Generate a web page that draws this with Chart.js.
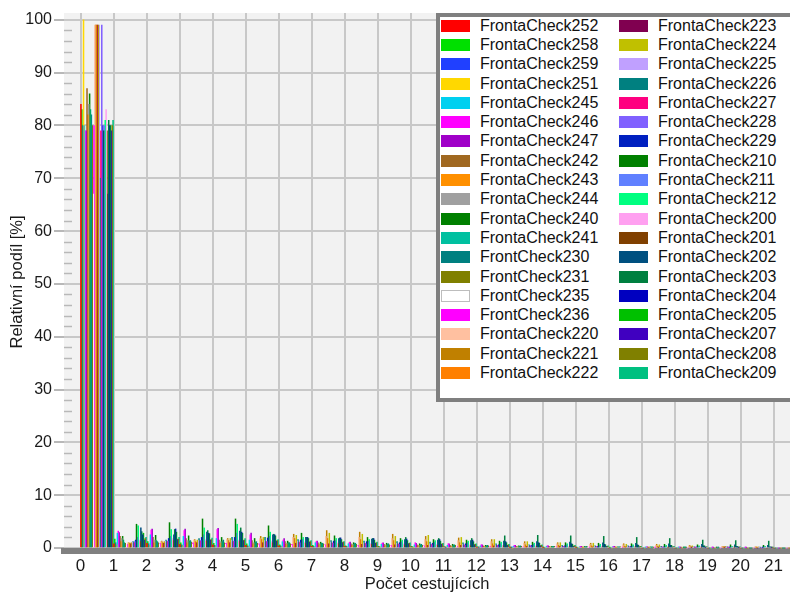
<!DOCTYPE html>
<html>
<head>
<meta charset="utf-8">
<script src="https://cdn.jsdelivr.net/npm/chart.js@4.4.0/dist/chart.umd.min.js"></script>
<style>
  html, body { margin: 0; padding: 0; background: #fff; overflow: hidden; }
  #wrap { position: relative; width: 790px; height: 594px; }
  #legend {
    position: absolute; left: 436px; top: 13px; width: 360px; height: 381px;
    background: #fff; border: 4px solid #7f7f7f;
    font-family: "Liberation Sans", Arial, sans-serif; font-size: 16px; color: #111;
  }
  .col { position: absolute; top: -1px; }
  .item { height: 19.3px; display: flex; align-items: center; white-space: nowrap; }
  .sw { width: 29px; height: 12px; margin-right: 10px; box-sizing: border-box; }
</style>
</head>
<body>
<div id="wrap">
  <canvas id="chart" width="790" height="594"></canvas>
  <div id="legend"></div>
</div>
<script>
// x categories: number of passengers (each bin spans [k, k+1])
const passengerCounts = [0, 1, 2, 3, 4, 5, 6, 7, 8, 9, 10, 11, 12, 13, 14, 15, 16, 17, 18, 19, 20, 21];
const shareTicks = [0, 10, 20, 30, 40, 50, 60, 70, 80, 90, 100];

const seriesNames = [
  "FrontaCheck252", "FrontaCheck258", "FrontaCheck259", "FrontaCheck251", "FrontaCheck245",
  "FrontaCheck246", "FrontaCheck247", "FrontaCheck242", "FrontaCheck243", "FrontaCheck244",
  "FrontaCheck240", "FrontaCheck241", "FrontCheck230", "FrontCheck231", "FrontCheck235",
  "FrontCheck236", "FrontaCheck220", "FrontaCheck221", "FrontaCheck222",
  "FrontaCheck223", "FrontaCheck224", "FrontaCheck225", "FrontaCheck226", "FrontaCheck227",
  "FrontaCheck228", "FrontaCheck229", "FrontaCheck210", "FrontaCheck211", "FrontaCheck212",
  "FrontaCheck200", "FrontaCheck201", "FrontaCheck202", "FrontaCheck203", "FrontaCheck204",
  "FrontaCheck205", "FrontaCheck207", "FrontaCheck208", "FrontaCheck209"
];

const seriesColors = [
  "#ff0000", "#00e000", "#2040ff", "#ffd800", "#00d0f0",
  "#ff00ff", "#a000c8", "#a06820", "#ff9000", "#a0a0a0",
  "#008000", "#00c0a0", "#008080", "#808000", "#ffffff",
  "#ff00ff", "#ffc0a0", "#c08000", "#ff8000",
  "#800050", "#c0c000", "#c0a0ff", "#008080", "#ff0080",
  "#8060ff", "#0020c0", "#008000", "#6080ff", "#00ff80",
  "#ffa0f0", "#804000", "#005080", "#008040", "#0000c0",
  "#00c000", "#4000c0", "#808000", "#00c080"
];

// relative share [%] per passenger count
const fc252 = [84, 0.8, 0.9, 0.7, 0.6, 0.5, 0.4, 0.3, 0.3, 0.2, 0.2, 0.2, 0.1, 0.1, 0.1, 0.1, 0, 0, 0, 0, 0, 0];
const fc258 = [83, 1.7, 1.2, 1.0, 0.9, 0.8, 0.6, 0.5, 0.4, 0.3, 0.3, 0.2, 0.2, 0.1, 0.1, 0.1, 0.1, 0, 0, 0, 0, 0];
const fc259 = [80, 1.0, 0.8, 0.6, 0.5, 0.4, 0.4, 0.3, 0.3, 0.2, 0.2, 0.1, 0.1, 0.1, 0, 0, 0, 0, 0, 0, 0, 0];
const fc251 = [100, 0.6, 0.5, 0.5, 0.4, 0.3, 0.3, 0.2, 0.2, 0.2, 0.1, 0.1, 0.1, 0, 0, 0, 0, 0, 0, 0, 0, 0];
const fc245 = [80, 2.8, 2.5, 2.2, 1.8, 1.5, 1.2, 1.0, 0.8, 0.7, 0.6, 0.5, 0.4, 0.3, 0.3, 0.2, 0.2, 0.1, 0.1, 0, 0, 0];
const fc246 = [79, 3.2, 3.4, 3.3, 3.5, 2.5, 1.5, 1.2, 1.0, 0.9, 1.0, 0.8, 0.6, 0.5, 0.4, 0.3, 0.3, 0.2, 0.2, 0.1, 0.1, 0];
const fc247 = [79, 2.9, 3.6, 3.6, 3.7, 2.8, 1.8, 1.3, 1.1, 1.0, 0.9, 0.8, 0.6, 0.5, 0.4, 0.3, 0.3, 0.2, 0.1, 0.1, 0.1, 0];
const fc242 = [87, 2.2, 2.0, 1.8, 1.5, 1.4, 1.2, 1.0, 0.8, 0.7, 0.6, 0.5, 0.4, 0.3, 0.3, 0.2, 0.2, 0.1, 0.1, 0, 0, 0];
const fc243 = [82, 1.2, 1.0, 1.0, 0.9, 0.8, 0.7, 0.6, 0.5, 0.4, 0.4, 0.3, 0.3, 0.2, 0.2, 0.1, 0.1, 0.1, 0, 0, 0, 0];
const fc244 = [84, 1.8, 1.5, 1.4, 1.2, 1.0, 0.9, 0.8, 0.7, 0.6, 0.5, 0.4, 0.3, 0.3, 0.2, 0.2, 0.1, 0.1, 0, 0, 0, 0];
const fc240 = [86, 2.2, 2.4, 2.3, 2.0, 1.8, 1.3, 1.1, 1.0, 0.9, 0.8, 0.7, 0.5, 0.4, 0.3, 0.3, 0.2, 0.2, 0.1, 0.1, 0, 0];
const fc241 = [83, 1.5, 1.4, 1.3, 1.2, 1.1, 1.0, 0.9, 0.8, 0.7, 0.6, 0.5, 0.4, 0.3, 0.3, 0.2, 0.2, 0.1, 0.1, 0, 0, 0];
const fc230 = [82, 1.0, 1.2, 1.4, 1.5, 1.2, 1.0, 0.9, 0.9, 0.8, 0.7, 0.6, 0.5, 0.4, 0.3, 0.3, 0.2, 0.2, 0.1, 0.1, 0, 0];
const fc231 = [80, 0.9, 1.0, 1.1, 1.0, 0.9, 0.8, 0.8, 0.7, 0.6, 0.5, 0.5, 0.4, 0.3, 0.3, 0.2, 0.2, 0.1, 0.1, 0, 0, 0];
const fc235 = [67, 0.8, 0.8, 0.7, 0.7, 0.6, 0.5, 0.5, 0.4, 0.4, 0.3, 0.3, 0.2, 0.2, 0.1, 0.1, 0.1, 0, 0, 0, 0, 0];
const fc236 = [80, 0.7, 0.9, 1.0, 0.9, 0.8, 0.7, 0.6, 0.5, 0.5, 0.4, 0.3, 0.3, 0.2, 0.2, 0.1, 0.1, 0.1, 0, 0, 0, 0];
const fc220 = [99, 1.0, 1.2, 1.5, 1.6, 1.8, 2.0, 2.2, 2.0, 1.8, 1.6, 1.4, 1.2, 0.9, 0.8, 0.7, 0.6, 0.5, 0.4, 0.3, 0.2, 0];
const fc221 = [99, 1.0, 1.3, 1.6, 1.8, 2.2, 2.6, 3.3, 3.0, 2.6, 2.2, 1.9, 1.6, 1.2, 1.0, 0.9, 0.8, 0.7, 0.5, 0.3, 0.2, 0];
const fc222 = [99, 0.9, 1.0, 1.2, 1.4, 1.6, 1.8, 1.8, 1.6, 1.4, 1.2, 1.0, 0.8, 0.6, 0.5, 0.4, 0.3, 0.3, 0.2, 0.1, 0.1, 0];
const fc223 = [99, 0.8, 0.9, 1.0, 1.0, 1.0, 0.9, 0.8, 0.7, 0.6, 0.5, 0.5, 0.4, 0.3, 0.3, 0.2, 0.2, 0.1, 0.1, 0.1, 0, 0];
const fc224 = [99, 1.0, 1.2, 1.5, 1.8, 2.0, 2.4, 2.8, 2.6, 2.2, 2.4, 2.0, 1.6, 1.2, 1.0, 0.9, 0.7, 0.6, 0.4, 0.3, 0.2, 0];
const fc225 = [99, 1.1, 1.3, 1.4, 1.5, 1.4, 1.3, 1.1, 1.0, 0.9, 0.8, 0.7, 0.6, 0.5, 0.4, 0.3, 0.3, 0.2, 0.1, 0.1, 0.1, 0];
const fc226 = [70, 1.2, 1.5, 1.8, 2.0, 2.0, 1.6, 1.4, 1.3, 1.2, 1.1, 1.0, 0.8, 0.6, 0.5, 0.4, 0.4, 0.3, 0.2, 0.2, 0.1, 0];
const fc227 = [79, 1.0, 1.2, 1.3, 1.2, 1.2, 1.1, 1.0, 0.9, 0.8, 0.7, 0.6, 0.5, 0.4, 0.3, 0.3, 0.2, 0.2, 0.1, 0.1, 0, 0];
const fc228 = [99, 1.2, 1.3, 1.4, 1.3, 1.2, 1.0, 0.9, 0.8, 0.7, 0.6, 0.5, 0.4, 0.4, 0.3, 0.2, 0.2, 0.1, 0.1, 0.1, 0, 0];
const fc229 = [80, 1.5, 1.8, 2.0, 2.0, 1.9, 1.5, 1.3, 1.2, 1.0, 0.9, 0.8, 0.6, 0.5, 0.4, 0.3, 0.3, 0.2, 0.2, 0.1, 0.1, 0];
const fc210 = [79, 4.5, 4.8, 5.5, 5.5, 4.2, 2.8, 2.3, 2.0, 1.8, 1.6, 1.5, 1.3, 1.1, 1.0, 0.9, 0.8, 0.7, 0.6, 0.6, 0.5, 0];
const fc211 = [80, 2.0, 2.2, 2.5, 2.8, 2.2, 1.6, 1.4, 1.3, 1.2, 1.1, 1.0, 0.8, 0.7, 0.6, 0.5, 0.4, 0.3, 0.3, 0.2, 0.2, 0];
const fc212 = [81, 4.2, 3.5, 3.8, 4.5, 3.0, 2.0, 1.8, 1.6, 1.5, 1.4, 1.3, 1.1, 0.9, 0.8, 0.7, 0.6, 0.5, 0.4, 0.3, 0.3, 0];
const fc200 = [83, 1.5, 1.8, 1.6, 1.5, 1.3, 1.1, 1.0, 0.9, 0.8, 0.7, 0.6, 0.5, 0.4, 0.3, 0.3, 0.2, 0.2, 0.1, 0.1, 0.1, 0];
const fc201 = [79, 1.2, 1.4, 1.3, 1.2, 1.0, 0.9, 0.8, 0.7, 0.6, 0.5, 0.4, 0.4, 0.3, 0.2, 0.2, 0.2, 0.1, 0.1, 0.1, 0, 0];
const fc202 = [67, 3.8, 2.5, 3.0, 3.2, 2.5, 2.0, 1.8, 1.7, 1.6, 1.5, 1.4, 1.3, 1.2, 1.1, 1.0, 0.9, 0.8, 0.7, 0.6, 0.5, 0];
const fc203 = [81, 3.1, 3.5, 3.3, 3.8, 2.6, 2.0, 1.9, 1.8, 2.0, 1.8, 1.8, 2.3, 2.4, 2.3, 2.2, 2.0, 1.8, 1.5, 1.4, 1.3, 0];
const fc204 = [80, 2.5, 3.6, 2.8, 3.0, 2.5, 2.0, 1.9, 1.8, 1.7, 1.6, 1.5, 1.2, 1.0, 0.8, 0.7, 0.6, 0.5, 0.4, 0.3, 0.2, 0];
const fc205 = [80, 2.8, 3.0, 2.7, 2.8, 2.3, 1.8, 1.6, 1.5, 1.4, 1.3, 1.2, 1.0, 0.9, 0.7, 0.6, 0.5, 0.5, 0.4, 0.3, 0.2, 0];
const fc207 = [79, 1.5, 1.6, 1.5, 1.4, 1.3, 1.1, 1.0, 0.9, 0.8, 0.7, 0.6, 0.5, 0.4, 0.3, 0.3, 0.2, 0.2, 0.1, 0.1, 0.1, 0];
const fc208 = [80, 1.8, 1.7, 1.6, 1.5, 1.4, 1.2, 1.1, 1.0, 0.9, 0.8, 0.7, 0.6, 0.5, 0.4, 0.3, 0.3, 0.2, 0.2, 0.1, 0.1, 0];
const fc209 = [81, 2.0, 2.0, 1.9, 1.8, 1.6, 1.4, 1.2, 1.1, 1.0, 0.9, 0.8, 0.7, 0.6, 0.5, 0.4, 0.3, 0.3, 0.2, 0.2, 0.1, 0];

const seriesValues = [
  fc252, fc258, fc259, fc251, fc245, fc246, fc247, fc242, fc243, fc244,
  fc240, fc241, fc230, fc231, fc235, fc236, fc220, fc221, fc222,
  fc223, fc224, fc225, fc226, fc227, fc228, fc229, fc210, fc211, fc212,
  fc200, fc201, fc202, fc203, fc204, fc205, fc207, fc208, fc209
];

Chart.defaults.font.family = '"Liberation Sans", Arial, sans-serif';
Chart.defaults.color = "#1a1a1a";

const datasets = seriesNames.map((name, i) => ({
  label: name,
  // bar sits in the middle of its bin [k, k+1]
  data: passengerCounts.map((c, k) => ({ x: c + 0.5, y: seriesValues[i][k] })),
  backgroundColor: seriesColors[i],
  borderWidth: 0,
  barPercentage: 1,
  categoryPercentage: 1
}));

const plotBackground = {
  id: "plotBackground",
  beforeDraw(chart) {
    const { ctx, chartArea: a } = chart;
    ctx.save();
    ctx.fillStyle = "#f2f2f2";
    ctx.fillRect(a.left, a.top, a.right - a.left, a.bottom - a.top);
    ctx.restore();
  },
  beforeDatasetsDraw(chart) {
    // minor ticks on the y axis, every 2 %
    const { ctx, chartArea: a, scales } = chart;
    ctx.save();
    ctx.strokeStyle = "#b8b8b8";
    ctx.lineWidth = 1.5;
    for (let v = 2; v < 100; v += 2) {
      if (v % 10 === 0) continue;
      const y = Math.round(scales.y.getPixelForValue(v)) + 0.5;
      ctx.beginPath();
      ctx.moveTo(a.left, y);
      ctx.lineTo(a.left + 8, y);
      ctx.stroke();
    }
    ctx.restore();
  }
};

new Chart(document.getElementById("chart"), {
  type: "bar",
  data: { datasets },
  options: {
    responsive: false,
    animation: false,
    layout: { padding: { top: 13, right: 0, bottom: 0, left: 0 } },
    plugins: { legend: { display: false }, tooltip: { enabled: false } },
    scales: {
      x: {
        type: "linear",
        offset: false,
        min: -0.5,
        max: 21.5,
        afterBuildTicks: axis => { axis.ticks = passengerCounts.map(v => ({ value: v })); },
        afterFit: axis => { axis.height = 43; },
        ticks: { stepSize: 1, autoSkip: false, maxRotation: 0, padding: 5, font: { size: 17 }, color: "#1a1a1a" },
        grid: { offset: false, color: "#c8c8c8", lineWidth: 2, drawTicks: false },
        border: { color: "#808080", width: 6 },
        title: { display: true, text: "Počet cestujících", font: { size: 16.5 }, color: "#1a1a1a", padding: { top: 1, bottom: 0 } }
      },
      y: {
        min: -0.57,
        max: 101.3,
        afterBuildTicks: axis => { axis.ticks = shareTicks.map(v => ({ value: v })); },
        afterFit: axis => { axis.width = 64; },
        ticks: { padding: 2, font: { size: 16 }, color: "#1a1a1a" },
        grid: { color: "#c8c8c8", lineWidth: 2, tickLength: 10, tickColor: "#b8b8b8" },
        border: { display: false },
        title: { display: true, text: "Relativní podíl [%]", font: { size: 16.5 }, color: "#1a1a1a", padding: { top: 8, bottom: 0 } }
      }
    }
  },
  plugins: [plotBackground]
});

// legend box: two columns, filled top to bottom
const legend = document.getElementById("legend");
const perColumn = 19;
for (let c = 0; c < 2; c++) {
  const col = document.createElement("div");
  col.className = "col";
  col.style.left = (1 + c * 178) + "px";
  seriesNames.slice(c * perColumn, (c + 1) * perColumn).forEach((name, i) => {
    const color = seriesColors[c * perColumn + i];
    const item = document.createElement("div");
    item.className = "item";
    const sw = document.createElement("span");
    sw.className = "sw";
    sw.style.background = color;
    sw.style.border = "1px solid " + (color === "#ffffff" ? "#bdbdbd" : color);
    const label = document.createElement("span");
    label.textContent = name;
    item.appendChild(sw);
    item.appendChild(label);
    col.appendChild(item);
  });
  legend.appendChild(col);
}
</script>
</body>
</html>
